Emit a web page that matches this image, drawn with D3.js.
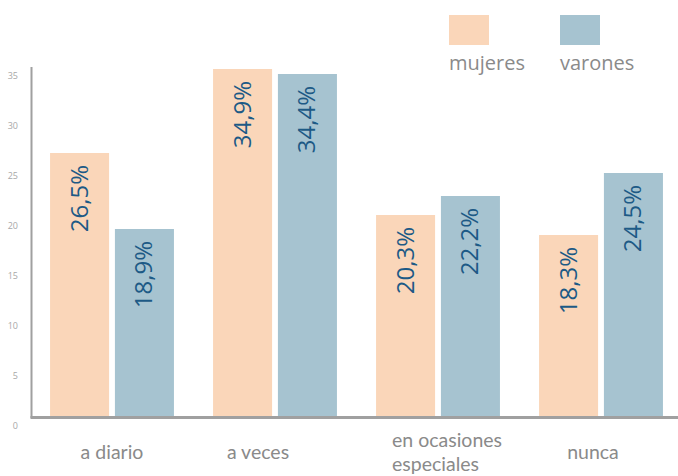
<!DOCTYPE html>
<html>
<head>
<meta charset="utf-8">
<script src="https://cdn.jsdelivr.net/npm/d3@7"></script>
<style>
  body { margin: 0; background: #fff; }
  text { font-family: "Open Sans", sans-serif; }
  text.cat { font-family: Lato, "Open Sans", sans-serif; }
</style>
</head>
<body>
<div id="chart"></div>
<script>
var categories = ["a diario", "a veces", "en ocasiones especiales", "nunca"];
var categoryLines = [["a diario"], ["a veces"], ["en ocasiones", "especiales"], ["nunca"]];
var series = ["mujeres", "varones"];
var mujeres = [26.5, 34.9, 20.3, 18.3];
var varones = [18.9, 34.4, 22.2, 24.5];
var yTicks = [0, 5, 10, 15, 20, 25, 30, 35];

var colors = {mujeres: "#fad6b9", varones: "#a6c3d0"};

var width = 678, height = 476;

var svg = d3.select("#chart")
  .append("svg")
    .attr("width", width)
    .attr("height", height);

var x = d3.scaleBand()
    .domain(categories)
    .range([30.5, 682.5])
    .paddingInner(0.24)
    .paddingOuter(0.12);

var xs = d3.scaleBand()
    .domain(series)
    .range([0, x.bandwidth()])
    .paddingInner(0.09);

var y = d3.scaleLinear()
    .domain([0, 35])
    .range([418, 68]);

var rows = categories.map(function(c, i) {
  return {cat: c, values: [
    {key: "mujeres", value: mujeres[i]},
    {key: "varones", value: varones[i]}
  ]};
});

// bars
var groups = svg.selectAll("g.group")
  .data(rows)
  .enter()
  .append("g")
    .attr("class", "group")
    .attr("transform", function(d) { return "translate(" + x(d.cat) + ",0)"; });

groups.selectAll("rect")
  .data(function(d) { return d.values; })
  .enter()
  .append("rect")
    .attr("x", function(d) { return xs(d.key); })
    .attr("y", function(d) { return y(d.value); })
    .attr("width", xs.bandwidth())
    .attr("height", function(d) { return y(0) - y(d.value); })
    .style("fill", function(d) { return colors[d.key]; });

// value labels, rotated
groups.selectAll("text.val")
  .data(function(d) { return d.values; })
  .enter()
  .append("text")
    .attr("class", "val")
    .attr("transform", function(d) {
      return "translate(" + (xs(d.key) + xs.bandwidth() / 2 + 8) + "," + (y(d.value) + 12) + ") rotate(-90)";
    })
    .attr("text-anchor", "end")
    .style("font-size", "24px")
    .style("fill", "#1d5a86")
    .text(function(d) { return d.value.toFixed(1).replace(".", ",") + "%"; });

// axis lines
svg.append("line")
    .attr("x1", 31.5).attr("x2", 31.5)
    .attr("y1", y(35) - 1).attr("y2", y(0))
    .attr("stroke", "#a0a0a0")
    .attr("stroke-width", 2);

svg.append("line")
    .attr("x1", 30.5).attr("x2", width)
    .attr("y1", y(0) - 0.5).attr("y2", y(0) - 0.5)
    .attr("stroke", "#a0a0a0")
    .attr("stroke-width", 3);

// y tick labels (sit a bit below their values, as in the original)
svg.selectAll("text.ytick")
  .data(yTicks)
  .enter()
  .append("text")
    .attr("class", "ytick")
    .attr("x", 18)
    .attr("y", function(d) { return y(d) + 11; })
    .attr("text-anchor", "end")
    .style("font-size", "9px")
    .style("fill", "#a8a8a8")
    .text(function(d) { return d; });

// category labels
var labelShift = [0, -17, -46, -8];
categories.forEach(function(c, i) {
  var lines = categoryLines[i];
  var cx = x(c) + x.bandwidth() / 2 + labelShift[i];
  var y0 = lines.length > 1 ? 447 : 459;
  lines.forEach(function(line, j) {
    svg.append("text")
        .attr("class", "cat")
        .attr("x", cx)
        .attr("y", y0 + j * 24)
        .attr("text-anchor", lines.length > 1 ? "start" : "middle")
        .style("font-size", "19.5px")
        .style("fill", "#8a8a8a")
        .text(line);
  });
});

// legend
var legend = svg.selectAll("g.legend")
  .data(series)
  .enter()
  .append("g")
    .attr("class", "legend")
    .attr("transform", function(d, i) { return "translate(" + (449 + i * 111) + ",15)"; });

legend.append("rect")
    .attr("width", 40)
    .attr("height", 30)
    .style("fill", function(d) { return colors[d]; });

legend.append("text")
    .attr("x", 0)
    .attr("y", 55)
    .style("font-size", "20px")
    .style("fill", "#8a8a8a")
    .text(function(d) { return d; });
</script>
</body>
</html>
